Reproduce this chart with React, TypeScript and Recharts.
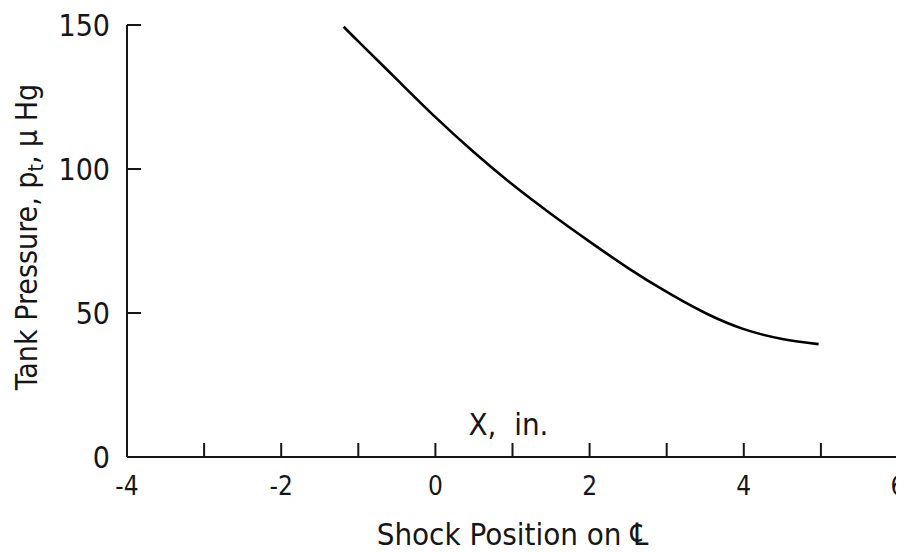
import React from "react";
import { LineChart, Line, XAxis, YAxis, Label } from "recharts";

const shockPosition = [-1.19, -1.0, -0.5, 0, 0.5, 1, 1.5, 2, 2.5, 3, 3.5, 4, 4.5, 4.97];
const tankPressure = [149.4, 144.3, 131.1, 118, 105.8, 94.6, 84.4, 74.8, 65.6, 57.3, 50.0, 44.4, 41.0, 39.2];
const xTicks = [-4, -3, -2, -1, 0, 1, 2, 3, 4, 5, 6];
const xTickLabels = ["-4", "", "-2", "", "0", "", "2", "", "4", "", "6"];
const yTicks = [0, 50, 100, 150];

const data = shockPosition.map((x, i) => ({ x, p: tankPressure[i] }));

const FONT = "'DejaVu Sans Condensed', 'DejaVu Sans', sans-serif";
const NARROW = "'Liberation Sans Narrow', 'DejaVu Sans Condensed', sans-serif";
const INK = "#161616";

const XTick = (props: any) => {
  const { x, y, payload } = props;
  const lbl = xTickLabels[xTicks.indexOf(payload.value)] ?? "";
  return (
    <g>
      <line x1={x} x2={x} y1={y} y2={y - 14} stroke={INK} strokeWidth={2} />
      {lbl !== "" && (
        <text x={x} y={y + 38} textAnchor="middle" fontFamily={FONT} fontSize={26} fill={INK}>
          {lbl}
        </text>
      )}
    </g>
  );
};

const YTick = (props: any) => {
  const { x, y, payload } = props;
  return (
    <g>
      <line x1={x} x2={x + 14} y1={y} y2={y} stroke={INK} strokeWidth={2} />
      <text x={x - 17} y={y + 11} textAnchor="end" fontFamily={NARROW} fontSize={30} fill={INK}>
        {payload.value}
      </text>
    </g>
  );
};

const XTitle = (props: any) => {
  const vb = props.viewBox || { x: 119, y: 449, width: 771, height: 95 };
  const cx = vb.x + vb.width / 2;
  return (
    <g>
      <text x={cx} y={vb.y + 88} textAnchor="middle" fontFamily={FONT} fontSize={31} fill={INK}>
        Shock Position on {"\u2104"}
      </text>
      <text x={cx - 4} y={vb.y - 22} textAnchor="middle" fontFamily={FONT} fontSize={31} fill={INK} style={{ whiteSpace: "pre" }}>
        {"X,  in."}
      </text>
    </g>
  );
};

const YTitle = (props: any) => {
  const vb = props.viewBox || { x: 0, y: 17, width: 119, height: 432 };
  const bx = 29;
  const cy = vb.y + vb.height / 2 - 4;
  return (
    <text
      x={bx}
      y={cy}
      transform={`rotate(-90, ${bx}, ${cy})`}
      textAnchor="middle"
      fontFamily={FONT}
      fontSize={30}
      fill={INK}
    >
      Tank Pressure, p
      <tspan fontSize={21} dy={6}>t</tspan>
      <tspan dy={-6}>, {"\u03bc"} Hg</tspan>
    </text>
  );
};

export default function App() {
  return (
    <LineChart
      width={896}
      height={544}
      data={data}
      margin={{ top: 17, right: 6, left: 0, bottom: 0 }}
      style={{ background: "#fff" }}
    >
      <XAxis
        dataKey="x"
        type="number"
        domain={[-4, 6]}
        ticks={xTicks}
        interval={0}
        height={95}
        tickSize={0}
        tickMargin={0}
        tickLine={false}
        tick={<XTick />}
        axisLine={{ stroke: INK, strokeWidth: 2 }}
        allowDataOverflow
      >
        <Label content={<XTitle />} />
      </XAxis>
      <YAxis
        type="number"
        domain={[0, 150]}
        ticks={yTicks}
        interval={0}
        width={119}
        tickSize={0}
        tickMargin={0}
        tickLine={false}
        tick={<YTick />}
        axisLine={{ stroke: INK, strokeWidth: 2 }}
        allowDataOverflow
      >
        <Label content={<YTitle />} />
      </YAxis>
      <Line
        type="natural"
        dataKey="p"
        stroke="#000"
        strokeWidth={2.6}
        dot={false}
        isAnimationActive={false}
      />
    </LineChart>
  );
}
